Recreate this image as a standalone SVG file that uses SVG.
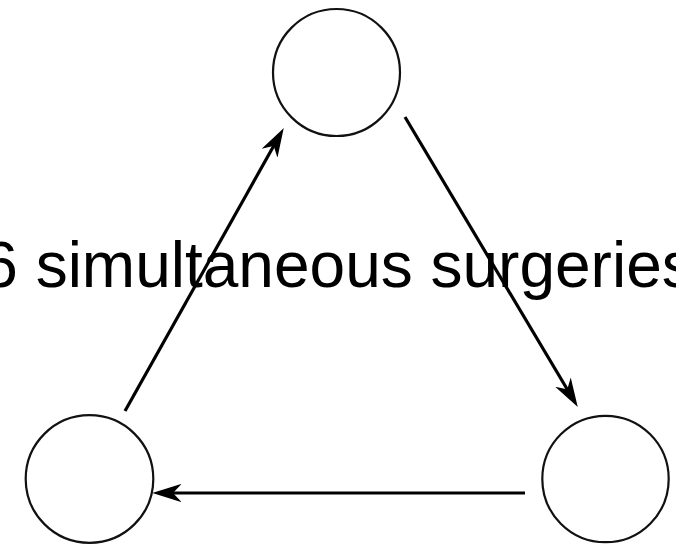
<svg xmlns="http://www.w3.org/2000/svg" width="676" height="544" viewBox="0 0 676 544">
<style>
.node{fill:#fff;stroke:#111;stroke-width:2.2}
.edge{fill:none;stroke:#000;stroke-width:3.2}
.lbl{font-family:"Liberation Sans",Arial,sans-serif;font-size:64px;fill:#000}
</style>
<defs>
<marker id="arr" markerUnits="userSpaceOnUse" viewBox="0 0 28 20" markerWidth="28" markerHeight="20" refX="9" refY="10" orient="auto">
<path d="M26,10 L2,2.5 L9,10 L2,17.5 Z" fill="#000" stroke="#000" stroke-width="1.5" stroke-linejoin="miter"/>
</marker>
</defs>
<rect width="676" height="544" fill="#fff"/>
<g id="node-top"><circle class="node" cx="336.5" cy="72.5" r="63.5"/></g>
<g id="node-left"><circle class="node" cx="89.5" cy="479" r="63.8"/></g>
<g id="node-right"><circle class="node" cx="605.5" cy="479" r="63.2"/></g>
<g id="edges">
<line class="edge" x1="125" y1="411" x2="274.2" y2="145" marker-end="url(#arr)"/>
<line class="edge" x1="405" y1="117" x2="567.8" y2="390.3" marker-end="url(#arr)"/>
<line class="edge" x1="525" y1="493" x2="172" y2="493" marker-end="url(#arr)"/>
</g>
<g id="label"><text class="lbl" x="338" y="287" text-anchor="middle">6 simultaneous surgeries</text></g>
</svg>
